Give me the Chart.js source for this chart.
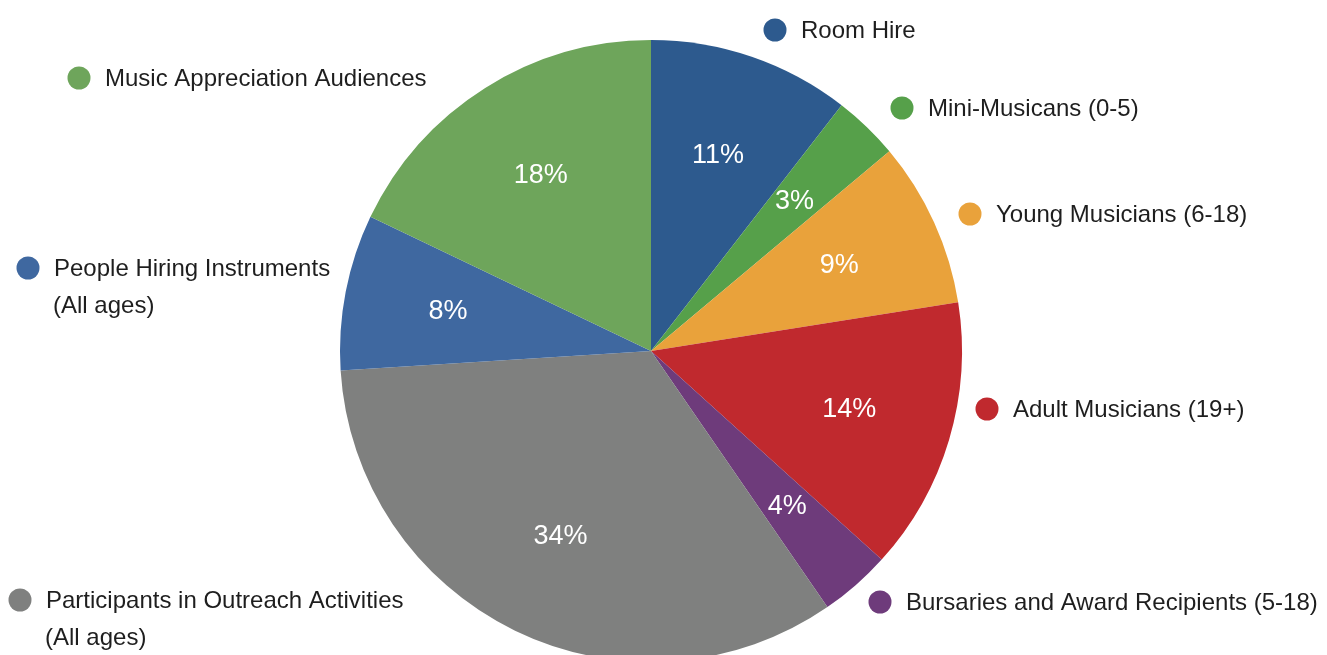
<!DOCTYPE html>
<html>
<head>
<meta charset="utf-8">
<script src="https://cdn.jsdelivr.net/npm/chart.js@4.4.1/dist/chart.umd.min.js"></script>
<style>
  html, body { margin: 0; padding: 0; background: #fff; overflow: hidden; }
  #wrap { width: 1327px; height: 655px; overflow: hidden; }
</style>
</head>
<body>
<div id="wrap"><canvas id="pie" width="1327" height="700"></canvas></div>
<script>
// slices, clockwise from 12 o'clock
const categories = [
  "Room Hire",
  "Mini-Musicans (0-5)",
  "Young Musicians (6-18)",
  "Adult Musicians (19+)",
  "Bursaries and Award Recipients (5-18)",
  "Participants in Outreach Activities (All ages)",
  "People Hiring Instruments (All ages)",
  "Music Appreciation Audiences"
];
const shares = [10.5, 3.4, 8.6, 14.2, 3.7, 33.6, 8.1, 17.9];
const sliceColors = ["#2d5a8e", "#56a04a", "#e9a23b", "#c0292e", "#6e3b7b", "#7f807f", "#3f68a0", "#6ea55b"];

// where each callout goes (dot centre x, y; text lines)
const callouts = [
  { x: 775, y: 30,  lines: ["Room Hire"] },
  { x: 902, y: 108, lines: ["Mini-Musicans (0-5)"] },
  { x: 970, y: 214, lines: ["Young Musicians (6-18)"] },
  { x: 987, y: 409, lines: ["Adult Musicians (19+)"] },
  { x: 880, y: 602, lines: ["Bursaries and Award Recipients (5-18)"] },
  { x: 20,  y: 600, lines: ["Participants in Outreach Activities", "(All ages)"] },
  { x: 28,  y: 268, lines: ["People Hiring Instruments", "(All ages)"] },
  { x: 79,  y: 78,  lines: ["Music Appreciation Audiences"] }
];

const FONT = '"Liberation Sans", Arial, Helvetica, sans-serif';

const sliceLabels = {
  id: "sliceLabels",
  afterDatasetsDraw(chart) {
    const ctx = chart.ctx;
    const meta = chart.getDatasetMeta(0);
    ctx.save();
    ctx.fillStyle = "#ffffff";
    ctx.font = "27px " + FONT;
    ctx.textAlign = "center";
    ctx.textBaseline = "middle";
    meta.data.forEach((arc, i) => {
      const mid = (arc.startAngle + arc.endAngle) / 2;
      const r = arc.outerRadius * 0.665;
      ctx.fillText(Math.round(shares[i]) + "%", arc.x + Math.cos(mid) * r, arc.y + Math.sin(mid) * r);
    });
    ctx.restore();
  }
};

const calloutLegend = {
  id: "calloutLegend",
  afterDraw(chart) {
    const ctx = chart.ctx;
    ctx.save();
    ctx.font = "24px " + FONT;
    ctx.textBaseline = "middle";
    ctx.textAlign = "left";
    callouts.forEach((c, i) => {
      ctx.fillStyle = sliceColors[i];
      ctx.beginPath();
      ctx.arc(c.x, c.y, 11.5, 0, Math.PI * 2);
      ctx.fill();
      ctx.fillStyle = "#1e1e1e";
      c.lines.forEach((line, k) => {
        ctx.fillText(line, c.x + 26 + (k > 0 ? -1 : 0), c.y + 1 + k * 37);
      });
    });
    ctx.restore();
  }
};

new Chart(document.getElementById("pie"), {
  type: "pie",
  data: {
    labels: categories,
    datasets: [{
      data: shares,
      backgroundColor: sliceColors,
      borderWidth: 0
    }]
  },
  options: {
    responsive: false,
    animation: false,
    layout: { padding: { left: 340, right: 365, top: 40, bottom: 38 } },
    plugins: {
      legend: { display: false },
      tooltip: { enabled: false }
    }
  },
  plugins: [sliceLabels, calloutLegend]
});
</script>
</body>
</html>
